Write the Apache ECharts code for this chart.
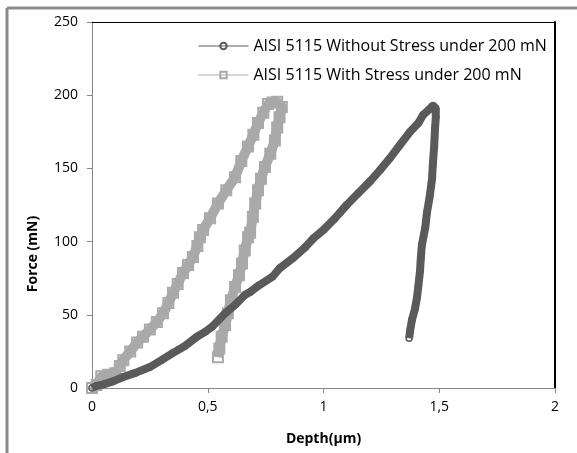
<!DOCTYPE html>
<html>
<head>
<meta charset="utf-8">
<script src="https://cdn.jsdelivr.net/npm/echarts@6/dist/echarts.min.js"></script>
<style>
html,body{margin:0;padding:0;background:#fff;}
#c{width:577px;height:453px;}
</style>
</head>
<body>
<div id="c"></div>
<script>
// Series names
var seriesNames = ["AISI 5115 Without Stress under 200 mN", "AISI 5115 With Stress under 200 mN"];
// Axis ticks
var xTicks = [0, 0.5, 1, 1.5, 2];
var yTicks = [0, 50, 100, 150, 200, 250];

// Without stress: depth (µm), force (mN)
var withoutDepth = [0, 0.02, 0.05, 0.09, 0.135, 0.19, 0.25, 0.30, 0.35, 0.40, 0.453, 0.49, 0.52, 0.575, 0.62, 0.66, 0.683, 0.72, 0.78, 0.812, 0.87, 0.92, 0.955, 1.0, 1.05, 1.10, 1.15, 1.20, 1.245, 1.287, 1.33, 1.374, 1.41, 1.43, 1.455, 1.473, 1.485,
  1.485, 1.482, 1.478, 1.472, 1.469, 1.458, 1.447, 1.44, 1.425, 1.42, 1.417, 1.41, 1.404, 1.395, 1.382, 1.375, 1.37];
var withoutForce = [0, 1.5, 2.5, 4.5, 7.5, 10.5, 14.3, 19, 24, 28.5, 35, 38.5, 42, 51, 57, 63.5, 65.6, 70, 76, 82, 89, 96, 102, 108, 116, 125, 133, 141, 149, 157, 166, 175, 181, 186.5, 190, 193, 191,
  185, 177.6, 165, 152, 143, 130, 120, 110, 97.7, 88, 80, 70, 62, 54, 46.4, 40, 34];

// With stress: depth (µm), force (mN)
var withDepth = [0, 0.02, 0.04, 0.07, 0.10, 0.12, 0.135, 0.165, 0.195, 0.22, 0.25, 0.28, 0.307, 0.33, 0.35, 0.37, 0.393, 0.415, 0.436, 0.455, 0.466, 0.48, 0.51, 0.544, 0.58, 0.618, 0.645, 0.674, 0.697, 0.717, 0.74, 0.76, 0.78, 0.80,
  0.82, 0.81, 0.80, 0.79, 0.77, 0.747, 0.73, 0.717, 0.705, 0.695, 0.683, 0.674, 0.66, 0.648, 0.635, 0.618, 0.60, 0.587, 0.575, 0.56, 0.55, 0.544];
var withForce = [0, 2, 8, 9, 10, 15, 19, 25, 31, 35, 40, 45, 51, 58, 65, 71, 78.6, 84, 89.5, 97, 103, 108, 116, 126, 135, 144, 155, 165, 173, 181, 188, 194, 195, 195.5,
  192, 185, 178, 169, 160, 151, 143, 135, 126, 117, 106, 103, 94, 85, 77, 69, 60, 51, 43, 35, 27, 21];

function pairs(xs, ys){ return xs.map(function(x,i){ return [x, ys[i]]; }); }

var FONT = 'Open Sans';
var chart = echarts.init(document.getElementById('c'), null, {renderer:'canvas'});
chart.setOption({
  animation: false,
  backgroundColor: '#fff',
  grid: {left: 92, right: 22, top: 22, bottom: 65},
  legend: {
    orient: 'vertical',
    left: 193, top: 33,
    itemWidth: 50, itemHeight: 8, itemGap: 13,
    itemGap: 13,
    lineStyle: {width: 1},
    textStyle: {fontFamily: FONT, fontSize: 16, color: '#000'},
    data: seriesNames
  },
  xAxis: [{
    type: 'value', min: 0, max: 2, interval: 0.5,
    name: 'Depth(µm)', nameLocation: 'middle', nameGap: 44,
    nameTextStyle: {fontFamily: FONT, fontSize: 14, fontWeight: 'bold', color: '#000'},
    axisLine: {show: true, lineStyle: {color: '#868686', width: 1}},
    axisTick: {show: true, inside: false, length: 5, lineStyle: {color: '#868686'}},
    axisLabel: {fontFamily: FONT, fontSize: 14, color: '#000', margin: 12,
      formatter: function(v){ return String(v).replace('.', ','); }},
    splitLine: {show: false}
  }, {
    type: 'value', min: 0, max: 2, position: 'top',
    axisLine: {show: true, onZero: false, lineStyle: {color: '#000', width: 1}},
    axisTick: {show: false}, axisLabel: {show: false}, splitLine: {show: false}
  }],
  yAxis: [{
    type: 'value', min: 0, max: 250, interval: 50,
    axisLine: {show: true, lineStyle: {color: '#868686', width: 1}},
    axisTick: {show: true, inside: false, length: 5, lineStyle: {color: '#868686'}},
    axisLabel: {fontFamily: FONT, fontSize: 14, color: '#000', margin: 14},
    splitLine: {show: false}
  }, {
    type: 'value', min: 0, max: 250, position: 'right',
    axisLine: {show: true, onZero: false, lineStyle: {color: '#000', width: 2}},
    axisTick: {show: false}, axisLabel: {show: false}, splitLine: {show: false}
  }],
  graphic: [
    {type: 'line', shape: {x1: 7, y1: 8, x2: 577, y2: 8}, style: {stroke: '#8c8c8c', lineWidth: 3}},
    {type: 'line', shape: {x1: 7, y1: 8, x2: 7, y2: 453}, style: {stroke: '#8c8c8c', lineWidth: 3}},
    {type: 'text', x: 33, y: 254, rotation: Math.PI/2,
      style: {text: 'Force (mN)', fontFamily: FONT, fontSize: 14, fontWeight: 'bold', fill: '#000', align: 'center', verticalAlign: 'middle'}}
  ],
  series: [{
    name: seriesNames[0], type: 'line',
    data: pairs(withoutDepth, withoutForce),
    symbol: 'circle', symbolSize: 6,
    itemStyle: {color: 'rgba(255,255,255,0)', borderColor: '#5a5a5a', borderWidth: 1.5},
    lineStyle: {color: '#5a5a5a', width: 8},
    z: 3
  }, {
    name: seriesNames[1], type: 'line',
    data: pairs(withDepth, withForce),
    symbol: 'rect', symbolSize: 10,
    itemStyle: {color: 'rgba(255,255,255,0)', borderColor: '#a9a9a9', borderWidth: 2},
    lineStyle: {color: '#a9a9a9', width: 10},
    z: 2
  }]
});
</script>
</body>
</html>
